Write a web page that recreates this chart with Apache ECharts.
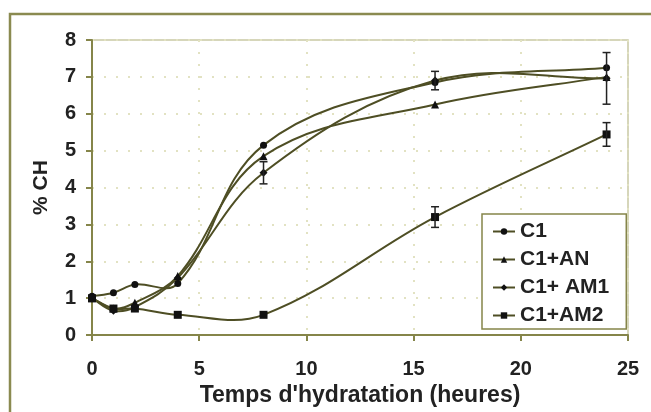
<!DOCTYPE html>
<html>
<head>
<meta charset="utf-8">
<script src="https://cdn.jsdelivr.net/npm/echarts@6/dist/echarts.min.js"></script>
<style>
html, body { margin: 0; background: #fff; }
#main { width: 651px; height: 412px; }
</style>
</head>
<body>
<div id="main"></div>
<script>
// temps d'hydratation (heures)
var hours = [0, 1, 2, 4, 8, 16, 24];
var names = ['C1', 'C1+AN', 'C1+ AM1', 'C1+AM2'];
var chC1 = [1.05, 1.15, 1.37, 1.4, 5.15, 6.85, 7.25];
var chAN = [1.0, 0.72, 0.88, 1.6, 4.85, 6.25, 7.0];
var chAM1 = [1.0, 0.66, 0.76, 1.55, 4.4, 6.9, 6.96];
var chAM2 = [1.0, 0.72, 0.72, 0.55, 0.55, 3.2, 5.44];
var allCH = [chC1, chAN, chAM1, chAM2];
var symbols = ['circle', 'triangle', 'diamond', 'rect'];
// barres d'erreur
var errX = [8, 16, 16, 24, 24];
var errY = [4.4, 6.9, 3.2, 6.96, 5.44];
var errE = [0.3, 0.25, 0.28, 0.7, 0.32];

var lineColor = '#4e4e24';
var axisColor = '#85854a';
var textColor = '#222';
var font = 'Liberation Sans';

function pairs(ys) {
    return hours.map(function (h, i) { return [h, ys[i]]; });
}

// courbe lissee facon tableur : un segment de Bezier par intervalle
function curveSeries(ys, k) {
    return {
        type: 'custom',
        name: 'curve' + k,
        data: pairs(ys),
        z: 2,
        silent: true,
        renderItem: function (params, api) {
            var i = params.dataIndex;
            if (i >= hours.length - 1) return null;
            var p = hours.map(function (h, j) { return api.coord([h, ys[j]]); });
            var n = p.length;
            function tangent(j) {
                var a = p[Math.max(j - 1, 0)], b = p[Math.min(j + 1, n - 1)];
                var dx = b[0] - a[0], dy = b[1] - a[1];
                var len = Math.sqrt(dx * dx + dy * dy) || 1;
                return [dx / len, dy / len];
            }
            var a = p[i], b = p[i + 1];
            var seg = Math.sqrt((b[0] - a[0]) * (b[0] - a[0]) + (b[1] - a[1]) * (b[1] - a[1]));
            var s = seg * 0.36;
            var t0 = tangent(i), t1 = tangent(i + 1);
            return {
                type: 'bezierCurve',
                shape: {
                    x1: a[0], y1: a[1], x2: b[0], y2: b[1],
                    cpx1: a[0] + t0[0] * s, cpy1: a[1] + t0[1] * s,
                    cpx2: b[0] - t1[0] * s, cpy2: b[1] - t1[1] * s
                },
                style: { stroke: lineColor, lineWidth: 2, fill: null }
            };
        }
    };
}

function markSeries(k) {
    return {
        name: names[k],
        type: 'line',
        data: pairs(allCH[k]),
        symbol: symbols[k],
        symbolSize: k === 0 ? 7 : 8,
        showAllSymbol: true,
        lineStyle: { color: lineColor, width: 2, opacity: 0 },
        itemStyle: { color: '#111' },
        z: 3
    };
}

var errData = errX.map(function (x, i) { return [x, errY[i] - errE[i], errY[i] + errE[i]]; });

var series = [];
allCH.forEach(function (ys, k) { series.push(curveSeries(ys, k)); });
allCH.forEach(function (ys, k) { series.push(markSeries(k)); });
series.push({
    type: 'custom',
    name: 'err',
    data: errData,
    z: 4,
    silent: true,
    renderItem: function (params, api) {
        var top = api.coord([api.value(0), api.value(2)]);
        var bot = api.coord([api.value(0), api.value(1)]);
        var w = 4;
        var st = { stroke: '#222', lineWidth: 1.5 };
        return {
            type: 'group',
            children: [
                { type: 'line', shape: { x1: top[0], y1: top[1], x2: bot[0], y2: bot[1] }, style: st },
                { type: 'line', shape: { x1: top[0] - w, y1: top[1], x2: top[0] + w, y2: top[1] }, style: st },
                { type: 'line', shape: { x1: bot[0] - w, y1: bot[1], x2: bot[0] + w, y2: bot[1] }, style: st }
            ]
        };
    }
});

var chart = echarts.init(document.getElementById('main'));
var option = {
    animation: false,
    backgroundColor: '#fff',
    graphic: [{
        type: 'rect',
        shape: { x: 10, y: 14, width: 660, height: 420 },
        style: { fill: 'none', stroke: '#8a8a50', lineWidth: 2.5 },
        silent: true
    }],
    grid: {
        left: 92, right: 23, top: 40, bottom: 76,
        show: true, borderColor: '#c9c9a4', borderWidth: 1.5
    },
    legend: {
        orient: 'vertical',
        left: 482, top: 214,
        padding: [7, 17, 3, 10],
        itemGap: 7,
        itemWidth: 22,
        itemHeight: 8,
        backgroundColor: '#fff',
        borderColor: axisColor,
        borderWidth: 1.5,
        lineStyle: { color: lineColor, width: 2, opacity: 1 },
        textStyle: { fontSize: 21, fontWeight: 'bold', color: textColor, fontFamily: font },
        data: names
    },
    xAxis: {
        type: 'value',
        min: 0, max: 25, interval: 5,
        name: "Temps d'hydratation (heures)",
        nameLocation: 'middle',
        nameGap: 40,
        nameTextStyle: { fontSize: 23, fontWeight: 'bold', color: textColor, fontFamily: font },
        axisLine: { lineStyle: { color: axisColor, width: 2 } },
        axisTick: { length: 6, lineStyle: { color: axisColor, width: 2 } },
        axisLabel: { margin: 24, fontSize: 20, fontWeight: 'bold', color: textColor, fontFamily: font },
        splitLine: { show: true, lineStyle: { color: '#e2e2c2', type: [2, 10], width: 2 } }
    },
    yAxis: {
        type: 'value',
        min: 0, max: 8, interval: 1,
        name: '% CH',
        nameLocation: 'middle',
        nameGap: 40,
        nameTextStyle: { fontSize: 21, fontWeight: 'bold', color: textColor, fontFamily: font },
        axisLine: { show: true, lineStyle: { color: axisColor, width: 2 } },
        axisTick: { show: true, length: 6, lineStyle: { color: axisColor, width: 2 } },
        axisLabel: { margin: 16, fontSize: 20, fontWeight: 'bold', color: textColor, fontFamily: font },
        splitLine: { show: true, lineStyle: { color: '#e2e2c2', type: [2, 10], width: 2 } }
    },
    series: series
};
chart.setOption(option);
</script>
</body>
</html>
